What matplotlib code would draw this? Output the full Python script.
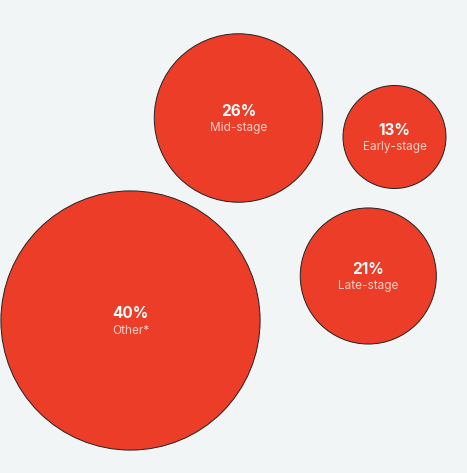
import matplotlib.pyplot as plt
from matplotlib.patches import Circle

# share of companies by stage
labels = ['Other*', 'Mid-stage', 'Early-stage', 'Late-stage']
values = [40, 26, 13, 21]

# bubble layout (pixel centres, y down)
centres = [(130.5, 320.5), (238.5, 118), (394.5, 137), (368.3, 276)]

W, H = 467, 473
px_per_pct = 3.24
min_radius = 51.5
bubble_color = '#eb3d27'
bg_color = '#f2f5f6'

fig = plt.figure(figsize=(W / 100, H / 100), dpi=100)
fig.patch.set_facecolor(bg_color)
ax = fig.add_axes([0, 0, 1, 1])
ax.set_facecolor(bg_color)
ax.set_xlim(0, W)
ax.set_ylim(H, 0)
ax.set_aspect('equal')
ax.axis('off')

for lab, val, (cx, cy) in zip(labels, values, centres):
    r = max(val * px_per_pct, min_radius)
    ax.add_patch(Circle((cx, cy), r, facecolor=bubble_color,
                        edgecolor='#222222', linewidth=0.7))
    ax.text(cx, cy - 7, f'{val}%', ha='center', va='center',
            color='white', fontsize=11, fontweight='bold', family='Inter')
    ax.text(cx, cy + 10, lab, ha='center', va='center',
            color='#fbd0c8', fontsize=8.5, family='Inter')

fig.savefig('out.png', dpi=100, facecolor=bg_color)
